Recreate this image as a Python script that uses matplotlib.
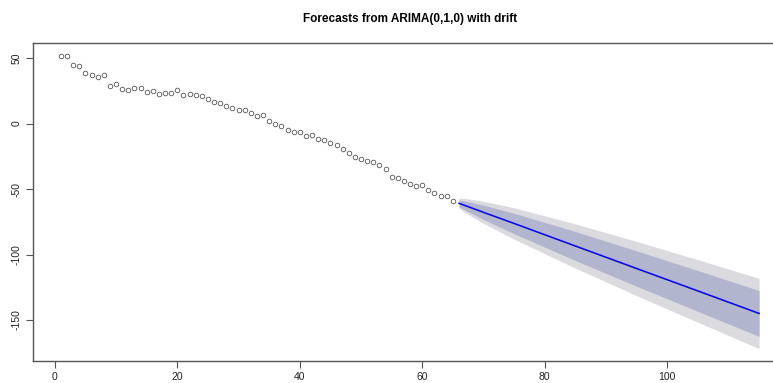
import matplotlib
matplotlib.use('Agg')
import matplotlib.pyplot as plt

# observed series (t = 1..65)
obs_t = list(range(1, 66))
obs_y = [51.8, 51.3, 44.4, 43.7, 38.3, 36.8, 35.7, 36.8, 28.4, 30.4,
         26.6, 25.6, 27.1, 27.1, 23.8, 24.6, 22.5, 23.3, 23.5, 25.6,
         21.5, 22.8, 21.5, 20.8, 18.5, 16.6, 15.4, 13.1, 11.8, 10.3,
         10.3, 8.2, 5.5, 6.3, 2.2, -0.1, -1.5, -4.7, -6.5, -6.5,
         -9.3, -8.8, -12.1, -12.4, -15.1, -16.6, -19.7, -22.3, -25.8, -27.3,
         -28.4, -29.4, -31.9, -34.5, -40.8, -41.6, -43.9, -46.4, -47.9, -47.2,
         -50.5, -53.1, -55.1, -55.6, -59.2]

# forecast, read at a few horizons
fc_t = [66, 67, 70, 75, 85, 95, 105, 115]
fc_mean = [-60.9, -62.6, -67.8, -76.3, -93.5, -110.7, -127.8, -145.0]
fc_lo80 = [-63.4, -66.1, -73.3, -84.1, -104.6, -124.2, -143.4, -162.5]
fc_hi80 = [-58.4, -59.1, -62.3, -68.5, -82.4, -97.2, -112.2, -127.5]
fc_lo95 = [-64.7, -68.0, -76.3, -88.3, -110.4, -131.4, -151.7, -171.8]
fc_hi95 = [-57.1, -57.2, -59.3, -64.3, -76.6, -90.0, -103.9, -118.2]

x_ticks = [0, 20, 40, 60, 80, 100]
y_ticks = [-150, -100, -50, 0, 50]

plt.rcParams['font.family'] = ['Liberation Sans', 'DejaVu Sans']

fig = plt.figure(figsize=(7.73, 3.83), dpi=100)
# the reference is cropped on the right, so the box runs past the figure edge
ax = fig.add_axes([33 / 773, 22 / 383, 754 / 773, 318 / 383])

ax.fill_between(fc_t, fc_lo95, fc_hi95, color='#DBDBDF', linewidth=0)
ax.fill_between(fc_t, fc_lo80, fc_hi80, color='#B1B5CE', linewidth=0)
ax.plot(fc_t, fc_mean, color='#0000FF', linewidth=1.1)
ax.plot(obs_t, obs_y, linestyle='none', marker='o', markersize=3.3,
        markerfacecolor='none', markeredgecolor='#555555', markeredgewidth=0.6)

ax.set_xlim(-3.56, 119.56)
ax.set_ylim(-181.3, 61.5)
ax.set_xticks(x_ticks)
ax.set_yticks(y_ticks)
ax.set_yticklabels([str(v) for v in y_ticks], rotation=90, va='center')

for s in ax.spines.values():
    s.set_color('#555555')
    s.set_linewidth(1.0)
ax.tick_params(direction='out', length=5, width=0.8, color='#555555',
               labelsize=7.5, labelcolor='#222222')
ax.tick_params(axis='x', pad=3)
ax.tick_params(axis='y', pad=3)

ax.set_title('Forecasts from ARIMA(0,1,0) with drift', fontsize=8.5,
             fontweight='bold', pad=15)

fig.savefig('out.png', dpi=100)
